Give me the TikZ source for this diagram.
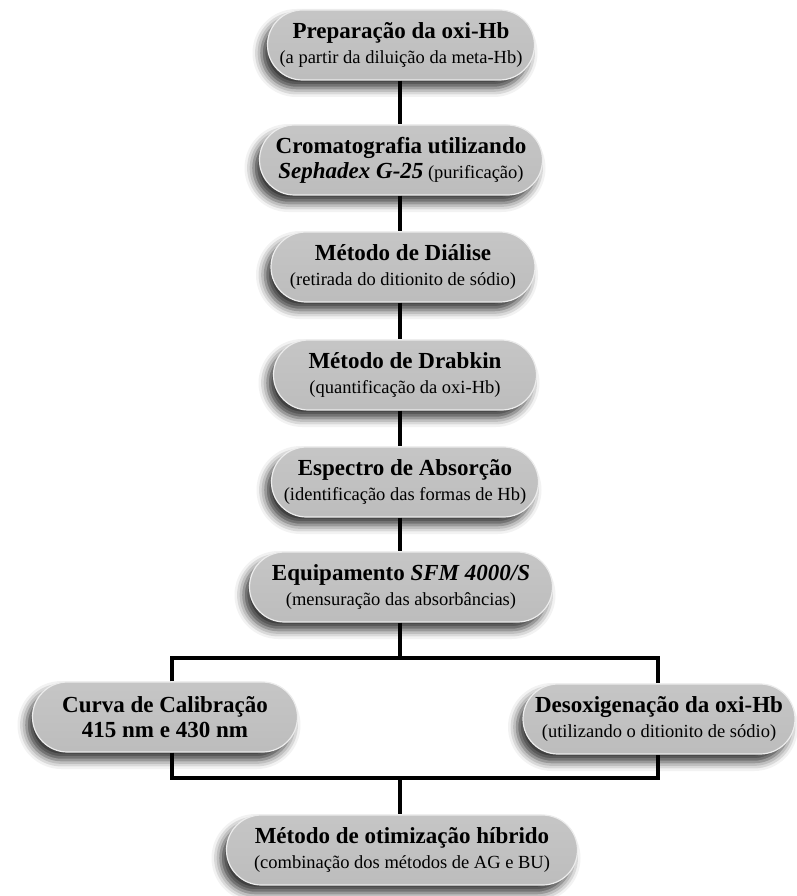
\documentclass[tikz,border=0pt]{standalone}
\usepackage{fontspec}
\setmainfont{Liberation Serif}
\usetikzlibrary{shadows.blur}
\newcommand{\titulo}[1]{{\fontsize{23}{25}\selectfont\bfseries #1}}
\newcommand{\obs}[1]{{\fontsize{18.5}{25}\selectfont #1}}
\begin{document}
\begin{tikzpicture}[x=1pt,y=-1pt,
		etapa/.style={rounded corners=35pt, minimum height=70pt, align=center,
			inner xsep=4pt, font=\fontsize{18.5}{25}\selectfont,
			draw=white!85!gray, line width=1.2pt,
			top color=gray!45, middle color=gray!68, bottom color=gray!52,
			blur shadow={shadow xshift=-6pt, shadow yshift=-8pt, shadow blur radius=9pt, shadow opacity=80}},
		liga/.style={line width=3.2pt}]
		\useasboundingbox (0,0) rectangle (797,896);
		% Etapas em coluna
		\node[etapa, minimum width=267pt] (prep) at (401,45) {\titulo{Preparação da oxi-Hb}\\\obs{(a partir da diluição da meta-Hb)}};
		\node[etapa, minimum width=283pt] (croma) at (401,160) {\titulo{Cromatografia utilizando}\\\titulo{\itshape Sephadex G-25} \obs{(purificação)}};
		\node[etapa, minimum width=264pt] (dialise) at (403,267) {\titulo{Método de Diálise}\\\obs{(retirada do ditionito de sódio)}};
		\node[etapa, minimum width=263pt] (drabkin) at (405,375) {\titulo{Método de Drabkin}\\\obs{(quantificação da oxi-Hb)}};
		\node[etapa, minimum width=267pt] (espectro) at (405,482) {\titulo{Espectro de Absorção}\\\obs{(identificação das formas de Hb)}};
		\node[etapa, minimum width=303pt] (sfm) at (401,587) {\titulo{Equipamento \itshape SFM 4000/S}\\\obs{(mensuração das absorbâncias)}};
		% Ramos
		\node[etapa, minimum width=265pt] (curva) at (165,717) {\titulo{Curva de Calibração}\\\titulo{415 nm e 430 nm}};
		\node[etapa, minimum width=272pt] (desox) at (659,719) {\titulo{Desoxigenação da oxi-Hb}\\\obs{(utilizando o ditionito de sódio)}};
		% Etapa final
		\node[etapa, minimum width=351pt] (hibrido) at (402,850) {\titulo{Método de otimização híbrido}\\\obs{(combinação dos métodos de AG e BU)}};
		% Pontos das ligacoes
		\coordinate (topoE) at (172,658);
		\coordinate (topoD) at (658,658);
		\coordinate (baseE) at (172,778);
		\coordinate (baseD) at (658,778);
		% Ligacoes
		\draw[liga] (prep.south -| 400,0) -- (croma.north -| 400,0);
		\draw[liga] (croma.south -| 400,0) -- (dialise.north -| 400,0);
		\draw[liga] (dialise.south -| 400,0) -- (drabkin.north -| 400,0);
		\draw[liga] (drabkin.south -| 400,0) -- (espectro.north -| 400,0);
		\draw[liga] (espectro.south -| 400,0) -- (sfm.north -| 400,0);
		\draw[liga] (sfm.south -| 400,0) -- (400,658);
		\draw[liga] (curva.north -| topoE) -- (topoE) -- (topoD) -- (desox.north -| topoD);
		\draw[liga] (curva.south -| baseE) -- (baseE) -- (baseD) -- (desox.south -| baseD);
		\draw[liga] (400,778) -- (hibrido.north -| 400,0);
\end{tikzpicture}
\end{document}
